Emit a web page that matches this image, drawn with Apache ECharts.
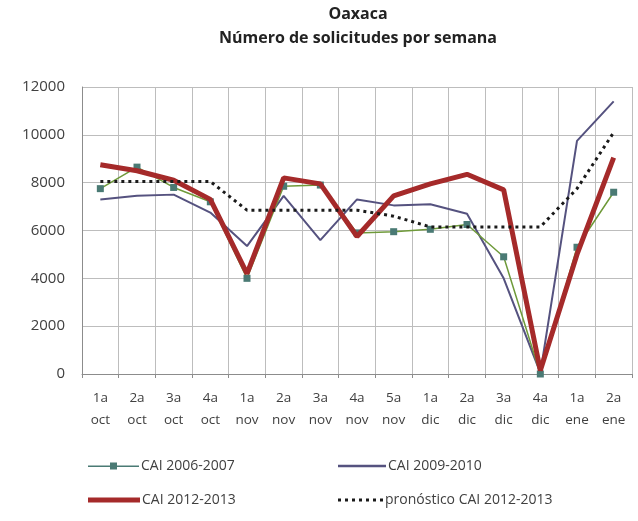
<!DOCTYPE html>
<html>
<head>
<meta charset="utf-8">
<script src="https://cdn.jsdelivr.net/npm/echarts@6/dist/echarts.min.js"></script>
<style>
html, body { margin: 0; padding: 0; background: #fff; }
#chart { width: 638px; height: 521px; }
</style>
</head>
<body>
<div id="chart"></div>
<script>
// semanas
const weeks = ['1a\noct', '2a\noct', '3a\noct', '4a\noct', '1a\nnov', '2a\nnov', '3a\nnov', '4a\nnov', '5a\nnov',
	'1a\ndic', '2a\ndic', '3a\ndic', '4a\ndic', '1a\nene', '2a\nene'];
const cai0607 = [7750, 8650, 7800, 7200, 4000, 7850, 7900, 5900, 5950, 6050, 6250, 4900, 0, 5300, 7600];
const cai0910 = [7300, 7450, 7500, 6750, 5350, 7450, 5600, 7300, 7050, 7100, 6700, 4000, 50, 9750, 11400];
const cai1213 = [8750, 8500, 8100, 7300, 4200, 8200, 7950, 5750, 7450, 7950, 8350, 7700, 150, 5000, 9050];
const pronostico = [8050, 8050, 8050, 8050, 6850, 6850, 6850, 6850, 6600, 6150, 6150, 6150, 6150, 7750, 10100];
const yTicks = [0, 2000, 4000, 6000, 8000, 10000, 12000];

const font = 'Open Sans';
const chart = echarts.init(document.getElementById('chart'));

// iconos de la leyenda dibujados a mano
let dots = '';
for (let i = 0; i < 7; i++) {
	dots += 'M' + (i * 7) + ',0h3v3h-3z ';
}
function legendAt(name, icon, w, h, left, top) {
	return {
		data: [{ name: name, icon: icon }],
		left: left,
		top: top,
		itemWidth: w,
		itemHeight: h,
		itemGap: 0,
		padding: 0,
		itemStyle: { borderWidth: 0 },
		textStyle: { fontFamily: font, fontSize: 14, color: '#404040', padding: [0, 0, 0, -3] },
		selectedMode: false
	};
}

const option = {
	animation: false,
	title: {
		text: 'Oaxaca\nNúmero de solicitudes por semana',
		left: 358,
		top: 2,
		padding: 0,
		textAlign: 'center',
		textStyle: { fontFamily: font, fontSize: 16, fontWeight: 'bold', color: '#222', lineHeight: 24 }
	},
	legend: [
		legendAt('CAI 2006-2007', 'path://M0,4h22v1.5h-22z M22,1h7v7h-7z M29,4h22v1.5h-22z', 51, 8, 88, 459),
		legendAt('CAI 2009-2010', 'path://M0,0h48v2.5h-48z', 48, 3, 338, 459),
		legendAt('CAI 2012-2013', 'path://M0,0h52v5h-52z', 52, 5, 88, 493),
		legendAt('pronóstico CAI 2012-2013', 'path://' + dots, 45, 3, 338, 493)
	],
	grid: { left: 82, right: 6, top: 87, bottom: 147 },
	xAxis: {
		type: 'category',
		data: weeks,
		boundaryGap: true,
		axisLine: { lineStyle: { color: '#8c8c8c' } },
		axisTick: { show: true, length: 4, lineStyle: { color: '#8c8c8c' } },
		splitLine: { show: true, lineStyle: { color: '#bdbdbd' } },
		axisLabel: { interval: 0, fontFamily: font, fontSize: 13.5, color: '#404040', lineHeight: 22, margin: 13 }
	},
	yAxis: {
		type: 'value',
		min: yTicks[0],
		max: yTicks[yTicks.length - 1],
		interval: 2000,
		axisLine: { show: true, lineStyle: { color: '#8c8c8c' } },
		splitLine: { lineStyle: { color: '#bdbdbd' } },
		axisLabel: { fontFamily: font, fontSize: 15, color: '#404040', margin: 17, formatter: (v) => String(v) }
	},
	series: [
		{
			name: 'CAI 2006-2007',
			type: 'line',
			data: cai0607,
			symbol: 'rect',
			symbolSize: 7,
			itemStyle: { color: '#4a7a74' },
			lineStyle: { color: '#6f9a3a', width: 1.5 },
			z: 3
		},
		{
			name: 'CAI 2009-2010',
			type: 'line',
			data: cai0910,
			symbol: 'none',
			itemStyle: { color: '#55527f' },
			lineStyle: { color: '#55527f', width: 2 },
			z: 2
		},
		{
			name: 'CAI 2012-2013',
			type: 'line',
			data: cai1213,
			symbol: 'none',
			itemStyle: { color: '#a52a2a' },
			lineStyle: { color: '#a52a2a', width: 5 },
			z: 4
		},
		{
			name: 'pronóstico CAI 2012-2013',
			type: 'line',
			data: pronostico,
			symbol: 'none',
			itemStyle: { color: '#1a1a1a' },
			lineStyle: { color: '#1a1a1a', width: 3, type: [3, 4] },
			z: 5
		}
	]
};
chart.setOption(option);
</script>
</body>
</html>
